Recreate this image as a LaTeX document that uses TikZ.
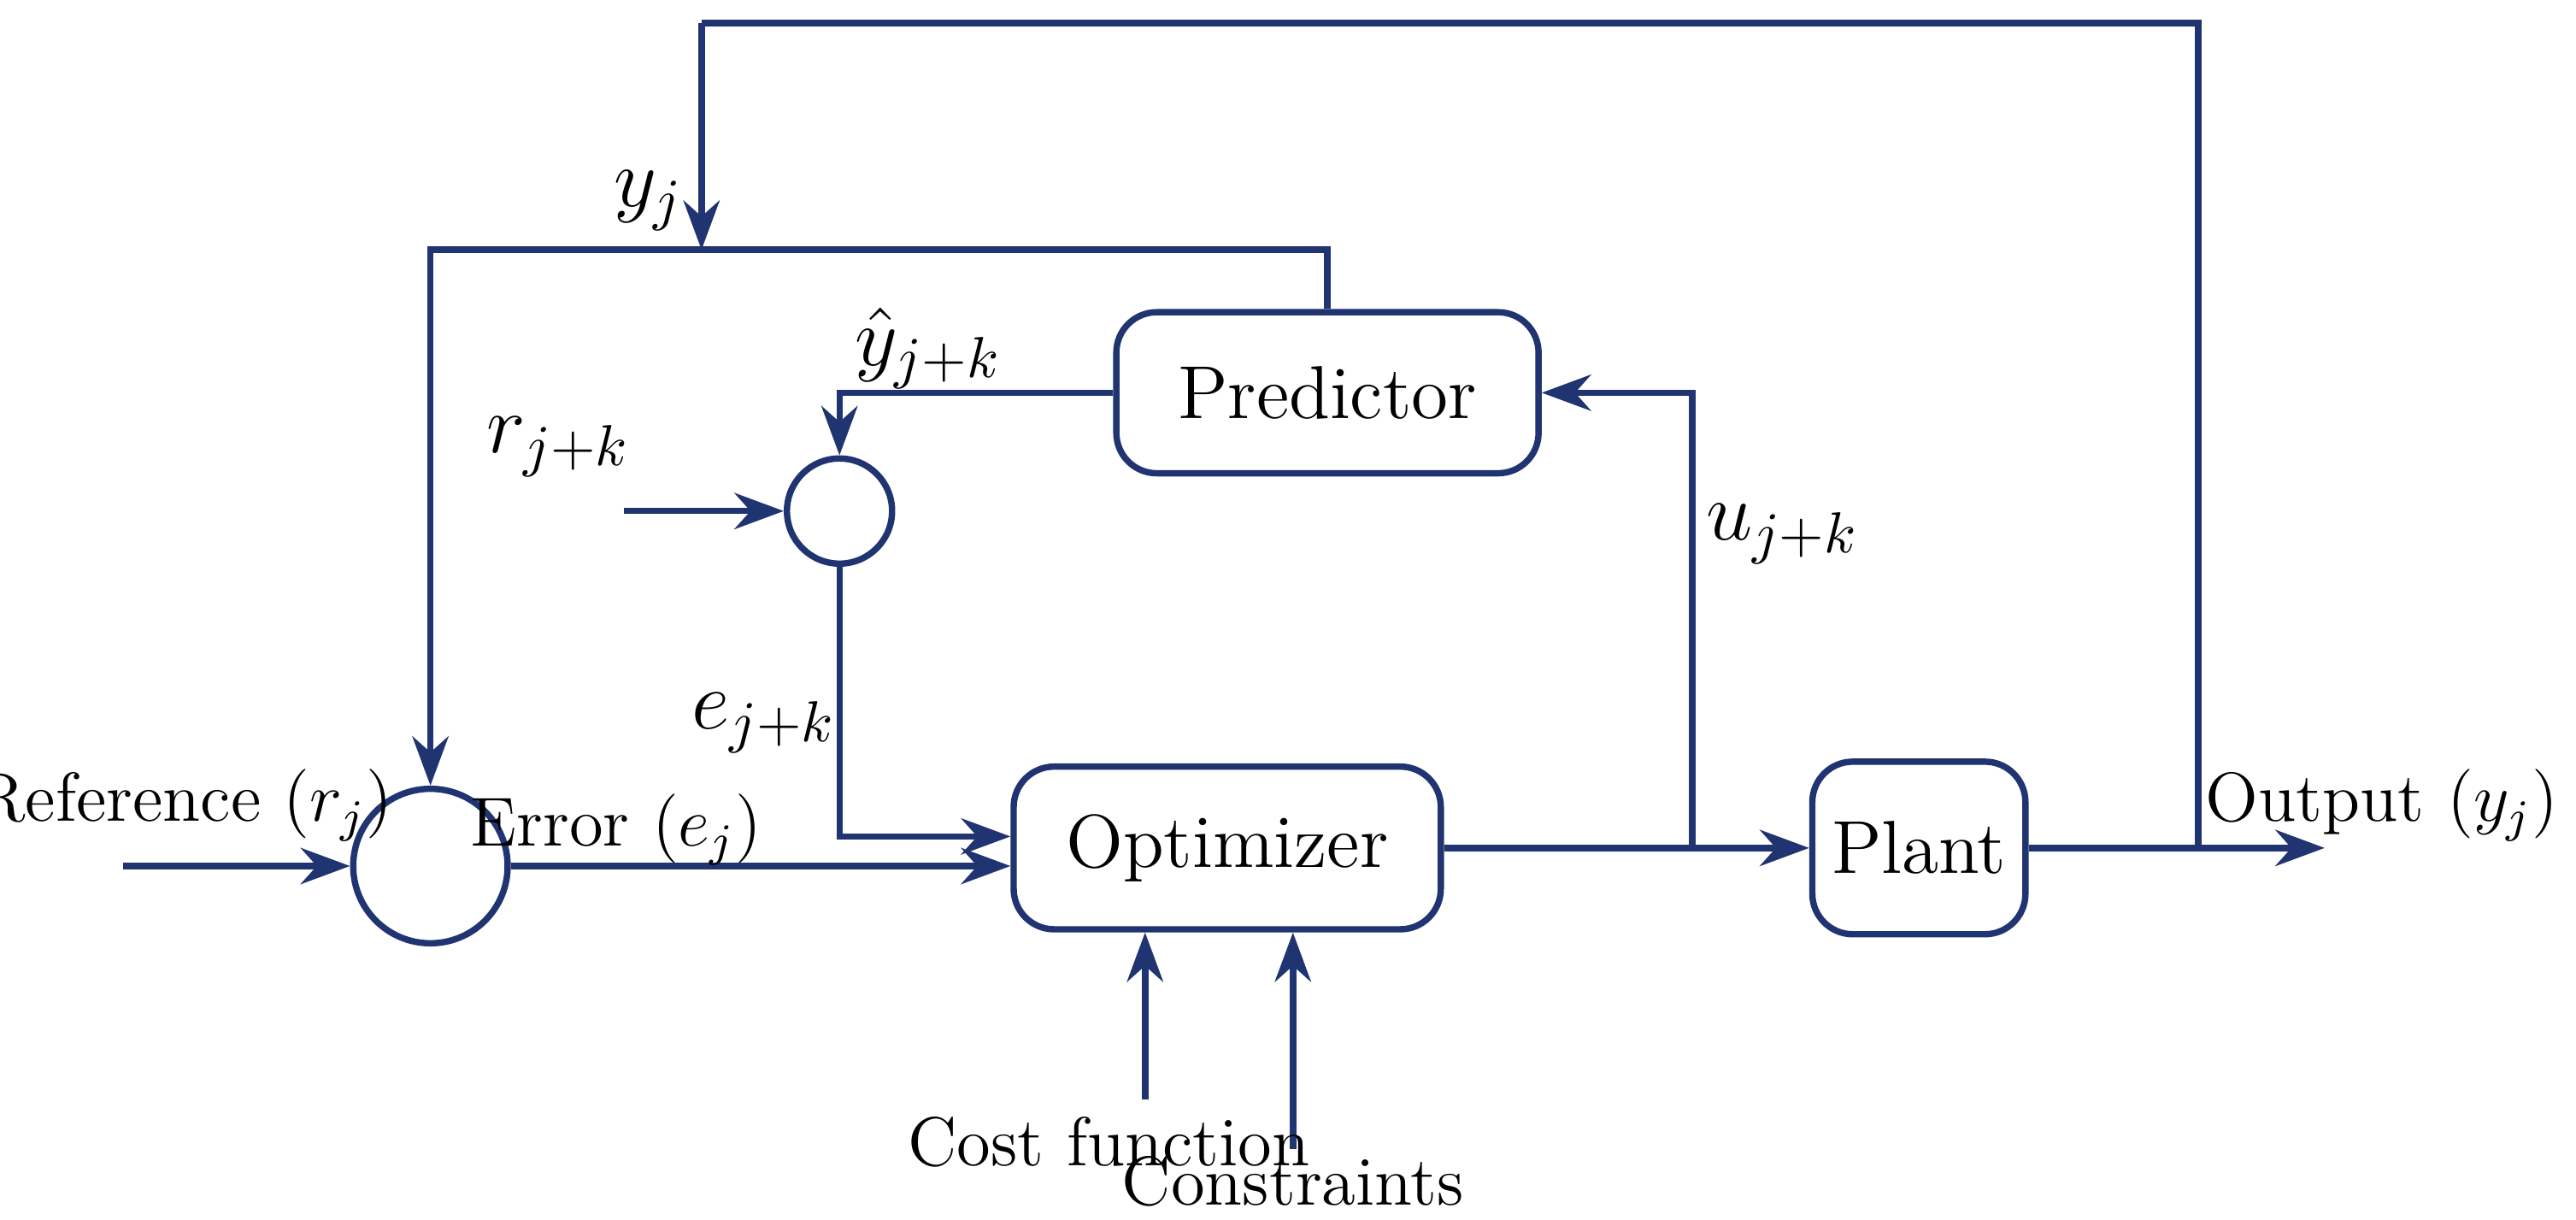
\documentclass[tikz,border=0pt]{standalone}
\usepackage{tikz}
\usetikzlibrary{positioning,arrows.meta}
\definecolor{navy}{RGB}{31,52,112}
\begin{document}
\begin{tikzpicture}[
        font=\fontsize{12}{14}\selectfont,
        >={Stealth[length=3mm,width=2.2mm]},
        block/.style={draw=navy, line width=1.1pt, rounded corners=7pt, align=center},
        sum/.style={draw=navy, line width=1.1pt, circle, inner sep=0pt},
        line/.style={draw=navy, line width=1.1pt},
        arrow/.style={->, draw=navy, line width=1.1pt},
        lbl/.style={font=\fontsize{14}{16}\selectfont},
    ]
    \useasboundingbox (0,6.85) rectangle (15.68,14.27);

    % blocks
    \node[block, minimum width=2.57cm, minimum height=0.98cm, font=\fontsize{13}{15}\selectfont] (pred) at (8.08,11.88) {Predictor};
    \node[block, minimum width=2.6cm, minimum height=0.99cm, font=\fontsize{13}{15}\selectfont] (opt) at (7.47,9.11) {Optimizer};
    \node[block, minimum width=1.24cm, minimum height=1.05cm, font=\fontsize{13}{15}\selectfont] (plant) at (11.68,9.11) {Plant};
    \node[sum, minimum size=0.94cm] (sbig) at (2.62,9.00) {};
    \node[sum, minimum size=0.64cm] (ssmall) at (5.11,11.16) {};

    % free ends
    \coordinate (refin) at (0.75,9.00);
    \coordinate (rin) at (3.80,11.16);
    \coordinate (out) at (14.15,9.11);
    \coordinate (split) at (10.30,9.11);
    \coordinate (tap) at (13.38,9.11);
    \coordinate (ypt) at (4.27,12.75);
    \coordinate (costin) at (6.97,7.58);
    \coordinate (consin) at (7.87,7.28);

    % main path
    \draw[arrow] (refin) -- (sbig);
    \draw[arrow] (sbig.east) -- (opt.west |- sbig.east);
    \draw[arrow] (opt.east) -- (plant.west);
    \draw[arrow] (plant.east) -- (out);

    % feedback
    \draw[line] (tap) -- (tap |- 0,14.13) -| (ypt |- 0,14.13);
    \draw[arrow] (ypt |- 0,14.13) -- (ypt);
    \draw[arrow] (pred.north) |- (sbig.north |- ypt) -- (sbig.north);
    \draw[arrow] (pred.west) -| (ssmall.north);
    \draw[arrow] (rin) -- (ssmall.west);
    \draw[arrow] (ssmall.south) |- ([yshift=0.07cm]opt.west);
    \draw[arrow] (split) |- (pred.east);
    \draw[arrow] (costin) -- (costin |- opt.south);
    \draw[arrow] (consin) -- (consin |- opt.south);

    % labels
    \node[lbl] at (3.95,13.05) {$y_j$};
    \node[lbl] at (5.65,12.15) {$\hat{y}_{j+k}$};
    \node[lbl] at (3.40,11.55) {$r_{j+k}$};
    \node[lbl] at (4.65,9.87) {$e_{j+k}$};
    \node[lbl] at (10.85,11.02) {$u_{j+k}$};
    \node at (1.12,9.37) {Reference ($r_j$)};
    \node at (3.75,9.22) {Error ($e_j$)};
    \node at (14.50,9.37) {Output ($y_j$)};
    \node at (6.75,7.32) {Cost function};
    \node at (7.87,7.08) {Constraints};
\end{tikzpicture}
\end{document}
